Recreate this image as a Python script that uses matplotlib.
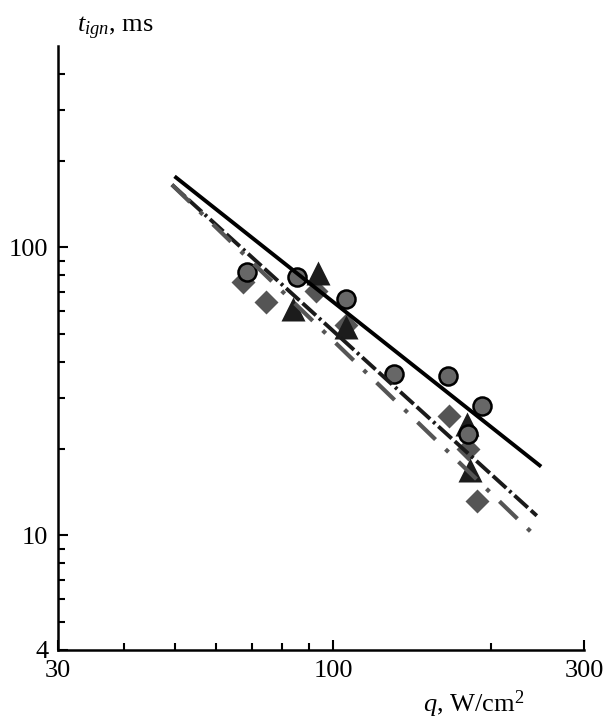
import numpy as np
import matplotlib
matplotlib.use("Agg")
import matplotlib.pyplot as plt
from matplotlib.ticker import FixedLocator, NullFormatter, FixedFormatter

plt.rcParams['font.family'] = ['Liberation Serif', 'DejaVu Serif']
plt.rcParams['mathtext.fontset'] = 'custom'
plt.rcParams['mathtext.rm'] = 'Liberation Serif'
plt.rcParams['mathtext.it'] = 'Liberation Serif:italic'
plt.rcParams['lines.scale_dashes'] = False

# measured points (q in W/cm^2, t_ign in ms)
q_circ = [68.6, 85.4, 105.8, 130.6, 165.4, 192.0, 180.6]
t_circ = [82.0, 78.7, 66.1, 36.4, 35.8, 28.2, 22.4]

q_tri = [93.6, 83.9, 105.8, 179.8, 182.0]
t_tri = [81.3, 61.0, 52.9, 24.4, 16.8]

q_dia = [67.5, 74.6, 92.8, 105.8, 166.0, 180.6, 187.8]
t_dia = [76.0, 64.5, 70.4, 53.7, 26.0, 20.0, 13.2]

# fitted lines (endpoints)
q_fit1 = [50.3, 247.0]
t_fit1 = [174.7, 17.5]
q_fit2 = [49.4, 244.0]
t_fit2 = [165.0, 11.7]
q_fit3 = [49.4, 239.0]
t_fit3 = [165.0, 10.2]

x_major = [30, 100, 300]
x_minor = [40, 50, 60, 70, 80, 90, 200]
y_major = [4, 10, 100]
y_minor = [5, 6, 7, 8, 9, 20, 30, 40, 50, 60, 70, 80, 90, 200, 300, 400]

fig = plt.figure(figsize=(6.04, 7.19), dpi=100)
ax = fig.add_axes([58/604, 69/719, 526/604, 604/719])

ax.plot(q_dia, t_dia, 'D', ms=12, color='#555555', mec='none', zorder=3)
ax.plot(q_tri, t_tri, '^', ms=17, color='#1c1c1c', mec='none', zorder=4)
ax.plot(q_circ, t_circ, 'o', ms=13, mfc='#676767', mec='black', mew=1.8, zorder=5)

ax.plot(q_fit1, t_fit1, '-', color='black', lw=2.8, zorder=6)
l2, = ax.plot(q_fit2, t_fit2, color='#1a1a1a', lw=2.8, zorder=6)
l2.set_dashes([13, 3, 13, 3, 2, 3])
l3, = ax.plot(q_fit3, t_fit3, color='#555555', lw=3.0, zorder=6)
l3.set_dashes([18, 10, 3, 10])
for l in (l2, l3):
    l.set_dash_capstyle('butt')

ax.set_xscale('log')
ax.set_yscale('log')
ax.set_xlim(30, 300)
ax.set_ylim(4, 500)

ax.xaxis.set_major_locator(FixedLocator(x_major))
ax.xaxis.set_major_formatter(FixedFormatter([str(v) for v in x_major]))
ax.xaxis.set_minor_locator(FixedLocator(x_minor))
ax.xaxis.set_minor_formatter(NullFormatter())
ax.yaxis.set_major_locator(FixedLocator(y_major))
ax.yaxis.set_major_formatter(FixedFormatter([str(v) for v in y_major]))
ax.yaxis.set_minor_locator(FixedLocator(y_minor))
ax.yaxis.set_minor_formatter(NullFormatter())

for s in ('top', 'right'):
    ax.spines[s].set_visible(False)
for s in ('left', 'bottom'):
    ax.spines[s].set_linewidth(1.8)

ax.tick_params(which='major', direction='in', length=7, width=1.5, labelsize=19, pad=7)
ax.tick_params(which='minor', direction='in', length=5, width=1.5)

fig.text(77/604, 1 - 32/719, r'$t_{ign}$, ms', fontsize=19, ha='left', va='baseline')
fig.text(423/604, 1 - 712/719, r'$q$, W/cm$^2$', fontsize=19, ha='left', va='baseline')

fig.savefig('out.png', dpi=100)
